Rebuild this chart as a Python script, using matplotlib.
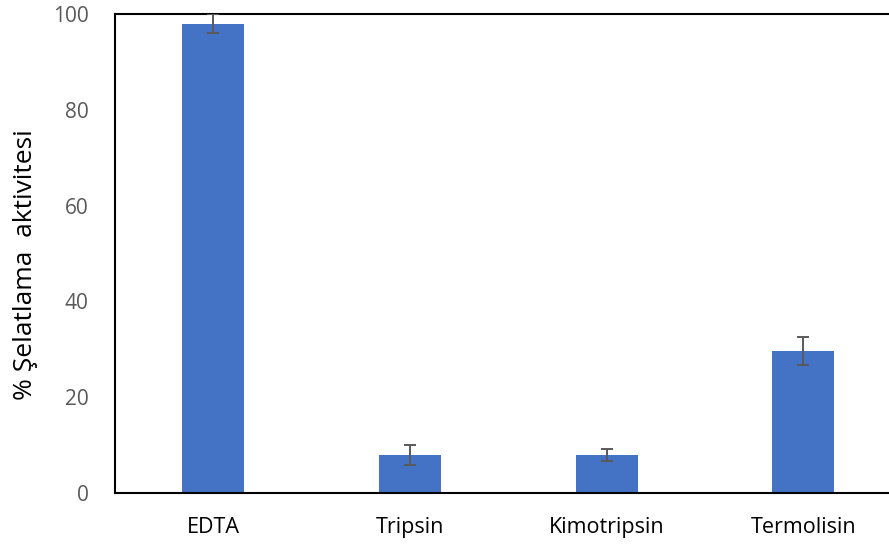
import numpy as np
import matplotlib.pyplot as plt

# data
categories = ['EDTA', 'Tripsin', 'Kimotripsin', 'Termolisin']
activity = [98.0, 8.0, 7.9, 29.7]
errors = [2.0, 2.1, 1.3, 2.9]

fig = plt.figure(figsize=(8.89, 5.46), dpi=100)
ax = fig.add_axes([0.1294, 0.0971, 0.885, 0.8773])

index = np.arange(len(categories))
ax.bar(index, activity, 0.315, color='#4472C4', zorder=2)
ax.errorbar(index, activity, yerr=errors, fmt='none', ecolor='#595959',
            elinewidth=1.4, capsize=4.4, capthick=1.4, zorder=3)

ax.set_xlim(-0.5, len(categories) - 0.5)
ax.set_ylim(0, 100)
ax.set_yticks(range(0, 101, 20))
ax.set_xticks(index)
ax.set_xticklabels(categories, fontsize=15.5, color='black', family='Open Sans')
ax.tick_params(axis='y', labelsize=15, labelcolor='#595959', length=0, pad=19)
ax.tick_params(axis='x', length=0, pad=17)
for lab in ax.get_yticklabels():
    lab.set_family('Open Sans')

ax.set_ylabel('% Şelatlama  aktivitesi', fontsize=19, family='Open Sans')
ax.yaxis.set_label_coords(-0.098, 0.476)

for s in ax.spines.values():
    s.set_color('black')
    s.set_linewidth(1.5)

fig.savefig('out.png', dpi=100)
